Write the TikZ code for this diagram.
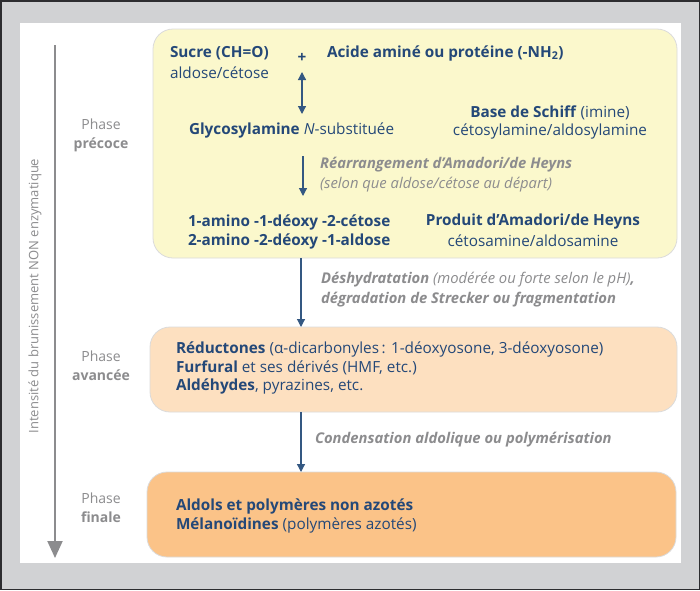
\documentclass[tikz,border=0pt]{standalone}
\usepackage{fontspec}
\setmainfont{Open Sans}
\usetikzlibrary{arrows.meta}
\definecolor{dblue}{RGB}{36,72,120}
\definecolor{arrblue}{RGB}{52,88,130}
\definecolor{gtext}{RGB}{140,140,142}
\definecolor{framedark}{RGB}{45,45,48}
\definecolor{framegray}{RGB}{209,210,212}
\definecolor{yelfill}{RGB}{251,248,204}
\definecolor{orlight}{RGB}{253,224,192}
\definecolor{ordark}{RGB}{251,195,136}
\begin{document}
\begin{tikzpicture}[x=1pt,y=-1pt,
  every node/.style={inner sep=0pt, outer sep=0pt, text=dblue, font=\fontsize{15.3}{19}\selectfont},
  phasebox/.style={draw=black!14, line width=0.8pt, rounded corners=20pt, anchor=north west},
  txt/.style={anchor=west, align=left},
  ctxt/.style={anchor=center, align=center},
  gtxt/.style={anchor=west, align=left, text=gtext, font=\fontsize{14.8}{20}\selectfont\itshape},
  phaselbl/.style={anchor=center, align=center, text=gtext, font=\fontsize{14}{19}\selectfont},
  arr/.style={draw=arrblue, line width=1.2pt, -{Triangle[length=8pt,width=8pt]}},
  darr/.style={draw=arrblue, line width=1.2pt, {Triangle[length=8pt,width=8pt]}-{Triangle[length=8pt,width=8pt]}}
]
\useasboundingbox (0,0) rectangle (700,590);
\fill[framedark] (0,0) rectangle (700,590);
\fill[framegray] (1.5,1.5) rectangle (698.5,588.5);
\fill[white] (20,23) rectangle (681,563);

% phase boxes
\node[phasebox, fill=yelfill, minimum width=524pt, minimum height=229pt] (early) at (153,29) {};
\node[phasebox, fill=orlight, minimum width=527pt, minimum height=85pt] (adv) at (150,327) {};
\node[phasebox, fill=ordark, minimum width=529pt, minimum height=85pt] (fin) at (147,472) {};

% left axis
\coordinate (axtop) at (55,45);
\coordinate (axbot) at (55,558);
\draw[draw=gtext, line width=2pt, -{Triangle[length=17pt,width=15pt]}] (axtop) -- (axbot);
\node[rotate=90, text=gtext, font=\fontsize{13}{16}\selectfont] (axlbl) at (35,296) {Intensité du brunissement NON enzymatique};

\node[phaselbl] (ph1) at (101,135) {Phase\\\textbf{précoce}};
\node[phaselbl] (ph2) at (101,366) {Phase\\\textbf{avancée}};
\node[phaselbl] (ph3) at (101,508) {Phase\\\textbf{finale}};

% early phase content
\node[txt] (sucre) at (170,53) {\textbf{Sucre (CH=O)}};
\node[txt] (aldcet) at (170,73) {aldose/cétose};
\node[ctxt] (plus) at (302,58) {\textbf{+}};
\node[txt] (acide) at (327,53) {\textbf{Acide aminé ou protéine (-NH\textsubscript{2})}};
\node[ctxt] (schiff) at (550,113) {\textbf{Base de Schiff} (imine)};
\node[ctxt] (cetosyl) at (550,131) {cétosylamine/aldosylamine};
\node[txt] (glyco) at (189,130) {\textbf{Glycosylamine} \textit{N}-substituée};
\coordinate (da1) at (302,72);
\coordinate (da2) at (302,114);
\draw[darr] (da1) -- (da2);

\node[gtxt] (rearr) at (320,175) {\textbf{Réarrangement d’Amadori/de Heyns}\\(selon que aldose/cétose au départ)};
\coordinate (a1s) at (303,156);
\coordinate (a1e) at (303,196);
\draw[arr] (a1s) -- (a1e);

\node[txt] (amino) at (188,231.5) {\textbf{1-amino -1-déoxy -2-cétose}\\\textbf{2-amino -2-déoxy -1-aldose}};
\node[ctxt] (amad) at (533,222) {\textbf{Produit d’Amadori/de Heyns}};
\node[ctxt] (cetosam) at (533,241) {cétosamine/aldosamine};

% transitions
\coordinate (ax) at (301,0);
\draw[arr] (early.south -| ax) -- (adv.north -| ax);
\node[gtxt] (deshyd) at (321,290) {\textbf{Déshydratation} (modérée ou forte selon le pH)\textbf{,}\\\textbf{dégradation de Strecker ou fragmentation}};

\draw[arr] (adv.south -| ax) -- (fin.north -| ax);
\node[gtxt] (cond) at (315,440) {\textbf{Condensation aldolique ou polymérisation}};

% advanced phase content
\node[txt, font=\fontsize{15.3}{18.5}\selectfont] (advtxt) at (176,368) {\textbf{Réductones} (α-dicarbonyles\,: 1-déoxyosone, 3-déoxyosone)\\\textbf{Furfural} et ses dérivés (HMF, etc.)\\\textbf{Aldéhydes}, pyrazines, etc.};

% final phase content
\node[txt, font=\fontsize{15.3}{18.5}\selectfont] (fintxt) at (176,516) {\textbf{Aldols et polymères non azotés}\\\textbf{Mélanoïdines} (polymères azotés)};
\end{tikzpicture}
\end{document}
